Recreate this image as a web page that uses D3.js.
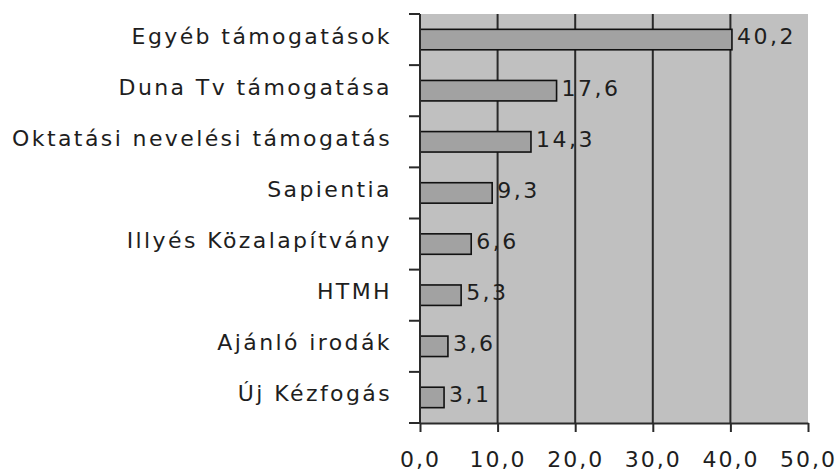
<!DOCTYPE html>
<html><head><meta charset="utf-8">
<script src="https://cdn.jsdelivr.net/npm/d3@7"></script>
<style>
html,body{margin:0;padding:0;background:#fff;}
svg text{font-family:"DejaVu Sans",Verdana,sans-serif;fill:#1e1e1e;}
</style></head>
<body>
<svg id="chart" width="836" height="473"></svg>
<script>
const categories = ["Egyéb támogatások","Duna Tv támogatása","Oktatási nevelési támogatás","Sapientia","Illyés Közalapítvány","HTMH","Ajánló irodák","Új Kézfogás"];
const values = [40.2, 17.6, 14.3, 9.3, 6.6, 5.3, 3.6, 3.1];
const tickValues = [0, 10, 20, 30, 40, 50];

const svg = d3.select("#chart");
const pLeft = 420, pRight = 808, pTop = 14, pBottom = 423;
const fmt = v => d3.format(".1f")(v).replace(".", ",");
const FONT = "DejaVu Sans, Verdana, sans-serif";

const x = d3.scaleLinear().domain([0, 50]).range([pLeft, pRight]);
const y = d3.scaleBand().domain(categories).range([pTop, pBottom]).paddingInner(0.6).paddingOuter(0.3);

// plot background
svg.append("rect").attr("x", x(0)).attr("y", pTop).attr("width", x(50) - x(0)).attr("height", pBottom - pTop).attr("fill", "#c0c0c0");

// gridlines
svg.append("g").selectAll("line").data(tickValues.filter(d => d > 0 && d < 50)).join("line")
  .attr("x1", d => x(d)).attr("x2", d => x(d)).attr("y1", pTop).attr("y2", pBottom)
  .attr("stroke", "#2a2a2a").attr("stroke-width", 2);

// bars
svg.append("g").selectAll("rect").data(categories).join("rect")
  .attr("x", x(0)).attr("y", d => y(d)).attr("width", (d, i) => x(values[i]) - x(0)).attr("height", y.bandwidth())
  .attr("fill", "#a2a2a2").attr("stroke", "#111").attr("stroke-width", 1.6);

// value labels
svg.append("g").selectAll("text").data(categories).join("text")
  .attr("x", (d, i) => x(values[i]) + 5).attr("y", d => y(d) + y.bandwidth() / 2)
  .attr("dy", "0.22em").attr("font-size", 22).attr("letter-spacing", 2.5)
  .text((d, i) => fmt(values[i]));

// x axis
const xAxis = d3.axisBottom(x).tickValues(tickValues).tickFormat(fmt).tickSize(9).tickSizeOuter(0).tickPadding(19);
const gx = svg.append("g").attr("transform", `translate(0,${pBottom})`).call(xAxis);
gx.select(".domain").attr("stroke", "#2a2a2a").attr("stroke-width", 2);
gx.selectAll(".tick line").attr("stroke", "#2a2a2a").attr("stroke-width", 2);
gx.selectAll(".tick text").attr("font-size", 22).attr("letter-spacing", 2).attr("font-family", FONT).attr("fill", "#1e1e1e");

// y axis line and ticks at band boundaries
const gap = (y.step() - y.bandwidth()) / 2;
const bounds = categories.map(c => y(c) - gap).concat([pBottom]);
svg.append("line").attr("x1", pLeft).attr("x2", pLeft).attr("y1", pTop).attr("y2", pBottom).attr("stroke", "#2a2a2a").attr("stroke-width", 2);
svg.append("g").selectAll("line").data(bounds).join("line")
  .attr("x1", pLeft - 11).attr("x2", pLeft).attr("y1", d => d).attr("y2", d => d)
  .attr("stroke", "#2a2a2a").attr("stroke-width", 2);

// category labels
svg.append("g").selectAll("text").data(categories).join("text")
  .attr("x", 392).attr("y", d => y(d) + y.bandwidth() / 2)
  .attr("dy", "0.18em").attr("text-anchor", "end").attr("font-size", 22).attr("letter-spacing", 2.4)
  .text(d => d);
</script>
</body></html>
